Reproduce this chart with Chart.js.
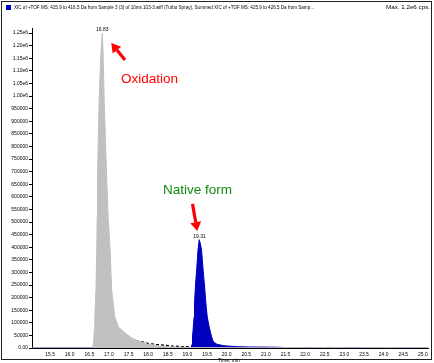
<!DOCTYPE html>
<html>
<head>
<meta charset="utf-8">
<script src="https://cdn.jsdelivr.net/npm/chart.js@4/dist/chart.umd.min.js"></script>
<style>
html,body{margin:0;padding:0;background:#fff;}
#wrap{position:relative;width:434px;height:363px;}
</style>
</head>
<body>
<div id="wrap"><canvas id="c" width="434" height="363"></canvas></div>
<script>
// ---- data ----
const xTicks = [15.5,16.0,16.5,17.0,17.5,18.0,18.5,19.0,19.5,20.0,20.5,21.0,21.5,22.0,22.5,23.0,23.5,24.0,24.5,25.0];
const yTicks = [0,50000,100000,150000,200000,250000,300000,350000,400000,450000,500000,550000,600000,650000,700000,750000,800000,850000,900000,950000,1000000,1050000,1100000,1150000,1200000,1250000];
const yTickLabels = ['0.00','50000','100000','150000','200000','250000','300000','350000','400000','450000','500000','550000','600000','650000','700000','750000','800000','850000','900000','950000','1.00e6','1.05e6','1.10e6','1.15e6','1.20e6','1.25e6'];

const greyTime   = [15.04,16.58,16.61,16.63,16.64,16.67,16.69,16.70,16.71,16.75,16.79,16.83,16.85,16.88,16.91,16.94,16.98,17.03,17.07,17.15,17.24,17.41,17.58,17.80,18.00,18.30,18.60,19.00,19.50,20.00,21.00,21.60,22.00,22.40,22.60,22.80,23.00,23.40,24.00,24.20,24.40,25.13];
const greyValues = [0,0,20000,80000,120000,230000,390000,520000,690000,980000,1150000,1250000,1180000,980000,830000,690000,520000,390000,230000,123000,83000,60000,40000,25000,15000,8000,4000,2000,1500,1200,1000,1500,1000,1500,3000,2000,1000,800,1500,2500,1000,500];

const blueTime   = [15.04,19.09,19.12,19.13,19.15,19.17,19.18,19.21,19.235,19.27,19.30,19.33,19.36,19.40,19.43,19.47,19.505,19.556,19.617,19.66,19.75,19.90,20.00,20.30,20.60,21.00,21.30,21.50,22.00,22.80,23.00,25.13];
const blueValues = [0,0,15000,44000,83000,123000,179000,258000,310000,389000,430000,415000,389000,310000,258000,179000,123000,83000,44000,25000,15000,10000,8000,5000,4000,3500,3000,1500,1000,2000,500,0];

const blackTime   = [16.70,16.80,16.90,17.00,17.10,17.20,17.30,17.40,17.50,17.65,17.80,17.90,18.00,18.20,18.40,18.60,18.80,19.00,19.20,19.60,20.00,20.50,21.00];
const blackValues = [0,3000,7000,10000,14000,18000,22000,25000,27000,29000,26000,22000,18000,14000,11000,8000,6000,5000,4000,3000,2000,1500,1000];

const peakLabels = [{t:16.83, v:1250000, text:'16.83'},{t:19.31, v:430000, text:'19.31'}];

const titleText = 'XIC of +TOF MS: 415.9 to 416.5 Da from Sample 3 (3) of 10ms 103-3.wiff (Turbo Spray), Summed XIC of +TOF MS: 425.9 to 426.5 Da from Samp...';
const maxText = 'Max. 1.2e6 cps.';
const xTitle = 'Time, min';

const toXY = (ts, vs) => ts.map((t,i)=>({x:t,y:vs[i]}));

const FONT = '"Liberation Sans", Arial, sans-serif';

function arrow(ctx, x1, y1, x2, y2, color){
  const ang = Math.atan2(y2-y1, x2-x1);
  const hl = 9, hw = 5.5;
  const bx = x2 - hl*Math.cos(ang), by = y2 - hl*Math.sin(ang);
  ctx.save();
  ctx.strokeStyle = color; ctx.fillStyle = color; ctx.lineWidth = 3.2;
  ctx.beginPath(); ctx.moveTo(x1,y1); ctx.lineTo(bx,by); ctx.stroke();
  ctx.beginPath();
  ctx.moveTo(x2,y2);
  ctx.lineTo(bx + hw*Math.sin(ang), by - hw*Math.cos(ang));
  ctx.lineTo(bx - hw*Math.sin(ang), by + hw*Math.cos(ang));
  ctx.closePath(); ctx.fill();
  ctx.restore();
}

const decor = {
  id:'decor',
  afterDraw(chart){
    const ctx = chart.ctx, xs = chart.scales.x, ys = chart.scales.y;
    ctx.save();
    // frame
    ctx.strokeStyle = '#222'; ctx.lineWidth = 1;
    ctx.strokeRect(1.5, 1.5, 430, 358);
    // title
    ctx.fillStyle = '#0000c8';
    ctx.fillRect(6, 5, 5, 5);
    ctx.fillStyle = '#000';
    ctx.font = '5px ' + FONT;
    ctx.textBaseline = 'middle';
    ctx.textAlign = 'left';
    const w = ctx.measureText(titleText).width;
    ctx.save();
    ctx.translate(14, 8);
    ctx.scale(300 / w, 1);
    ctx.fillText(titleText, 0, 0);
    ctx.restore();
    const w2 = ctx.measureText(maxText).width;
    ctx.save();
    ctx.translate(386, 8);
    ctx.scale(44 / w2, 1);
    ctx.fillText(maxText, 0, 0);
    ctx.restore();
    // x title
    ctx.textAlign = 'left';
    ctx.fillText(xTitle, 218, 361);
    // peak labels
    ctx.textAlign = 'center';
    ctx.textBaseline = 'bottom';
    peakLabels.forEach(p=>{
      ctx.fillText(p.text, xs.getPixelForValue(p.t), ys.getPixelForValue(p.v) - 1);
    });
    // annotations
    arrow(ctx, xs.getPixelForValue(17.41), ys.getPixelForValue(1143000), xs.getPixelForValue(17.06), ys.getPixelForValue(1210000), '#ff0000');
    arrow(ctx, xs.getPixelForValue(19.13), ys.getPixelForValue(572000), xs.getPixelForValue(19.25), ys.getPixelForValue(464000), '#ff0000');
    ctx.font = '13.5px ' + FONT;
    ctx.textAlign = 'left';
    ctx.textBaseline = 'middle';
    ctx.fillStyle = '#ff0000';
    ctx.fillText('Oxidation', xs.getPixelForValue(17.31), ys.getPixelForValue(1067000));
    ctx.fillStyle = '#128a12';
    ctx.fillText('Native form', xs.getPixelForValue(18.38), ys.getPixelForValue(627000));
    ctx.restore();
  }
};

new Chart(document.getElementById('c'), {
  type:'line',
  data:{
    datasets:[
      {data:toXY(greyTime, greyValues), borderColor:'#c0c0c0', backgroundColor:'#c0c0c0', fill:'origin', borderWidth:1, pointRadius:0, tension:0},
      {data:toXY(blueTime, blueValues), borderColor:'#0000c0', backgroundColor:'#0000c0', fill:'origin', borderWidth:1, pointRadius:0, tension:0},
      {data:toXY(blackTime, blackValues), borderColor:'#000', borderWidth:1.3, borderDash:[3,2], fill:false, pointRadius:0, tension:0}
    ]
  },
  options:{
    responsive:false, animation:false, devicePixelRatio:1,
    layout:{padding:{left:0, top:28, right:6, bottom:0}},
    plugins:{legend:{display:false}, tooltip:{enabled:false}, title:{display:false}},
    scales:{
      x:{
        type:'linear', min:15.04, max:25.13,
        afterBuildTicks:s=>{ s.ticks = xTicks.map(v=>({value:v})); },
        afterFit:s=>{ s.height = 15; },
        grid:{display:true, drawOnChartArea:false, drawTicks:false},
        border:{display:true, color:'#000', width:1},
        ticks:{font:{size:5, family:FONT}, color:'#000', padding:4, maxRotation:0, autoSkip:false,
               callback:v=>v.toFixed(1)}
      },
      y:{
        type:'linear', min:0, max:1270000,
        afterBuildTicks:s=>{ s.ticks = yTicks.map(v=>({value:v})); },
        afterFit:s=>{ s.width = 32; },
        grid:{display:true, drawOnChartArea:false, drawTicks:true, tickLength:3, color:'#000'},
        border:{display:true, color:'#000', width:1},
        ticks:{font:{size:5, family:FONT}, color:'#000', padding:1, autoSkip:false,
               callback:(v,i)=>yTickLabels[yTicks.indexOf(v)] ?? ''}
      }
    }
  },
  plugins:[decor]
});
</script>
</body>
</html>
